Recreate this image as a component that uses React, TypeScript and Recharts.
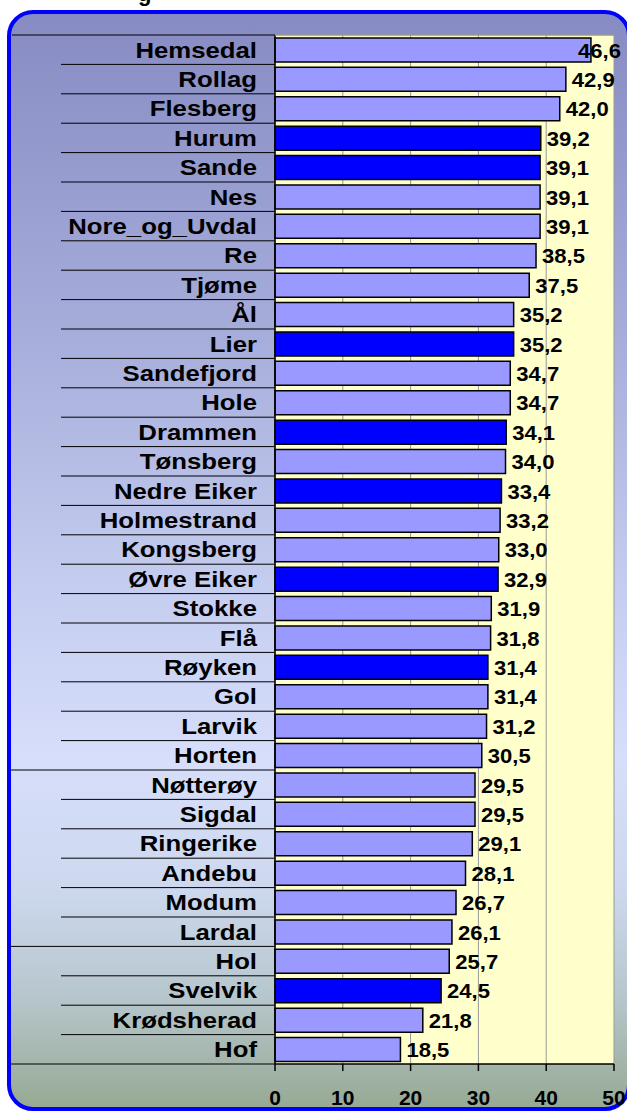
import { Bar, BarChart, CartesianGrid, Cell, LabelList, XAxis, YAxis } from "recharts";

const kommuner = [
  "Hemsedal", "Rollag", "Flesberg", "Hurum", "Sande", "Nes", "Nore_og_Uvdal", "Re", "Tjøme", "Ål",
  "Lier", "Sandefjord", "Hole", "Drammen", "Tønsberg", "Nedre Eiker", "Holmestrand", "Kongsberg",
  "Øvre Eiker", "Stokke", "Flå", "Røyken", "Gol", "Larvik", "Horten", "Nøtterøy", "Sigdal",
  "Ringerike", "Andebu", "Modum", "Lardal", "Hol", "Svelvik", "Krødsherad", "Hof",
];

const verdier = [
  46.6, 42.9, 42.0, 39.2, 39.1, 39.1, 39.1, 38.5, 37.5, 35.2,
  35.2, 34.7, 34.7, 34.1, 34.0, 33.4, 33.2, 33.0,
  32.9, 31.9, 31.8, 31.4, 31.4, 31.2, 30.5, 29.5, 29.5,
  29.1, 28.1, 26.7, 26.1, 25.7, 24.5, 21.8, 18.5,
];

const uthevet = ["Hurum", "Sande", "Lier", "Drammen", "Nedre Eiker", "Øvre Eiker", "Røyken", "Svelvik"];

// last category in each group (a full-width line is drawn below these)
const gruppeSlutt = ["Horten", "Lardal"];

const xTicks = [0, 10, 20, 30, 40, 50];

const W = 627;
const H = 1113;
const MARGIN = { top: 35, right: 13, bottom: 0, left: 0 };
const Y_AXIS_W = 275;
const X_AXIS_H = 49;
const PLOT_H = H - MARGIN.top - MARGIN.bottom - X_AXIS_H;
const ROW = PLOT_H / kommuner.length;
const FONT = "'Liberation Sans', Arial, Helvetica, sans-serif";

const data = kommuner.map((name, i) => ({ name, value: verdier[i] }));

function CategoryTick(props: any) {
  const { y, payload, index } = props;
  const name = payload.value as string;
  const bottom = y + ROW / 2;
  const lineStart = gruppeSlutt.includes(name) || index === kommuner.length - 1 ? 10 : 61;
  return (
    <g>
      {index === 0 && (
        <>
          <line x1={12} x2={Y_AXIS_W} y1={y - ROW / 2} y2={y - ROW / 2} stroke="#000" strokeWidth={1} />
          <line x1={Y_AXIS_W} x2={W - MARGIN.right} y1={y - ROW / 2} y2={y - ROW / 2} stroke="#999" strokeWidth={1.5} />
        </>
      )}
      <line x1={lineStart} x2={Y_AXIS_W} y1={bottom} y2={bottom} stroke="#000" strokeWidth={1} />
      <text
        transform={`translate(257, ${y}) scale(1.17, 1)`}
        textAnchor="end"
        dy="0.36em"
        fontFamily={FONT}
        fontWeight="bold"
        fontSize={22}
        fill="#000"
      >
        {name}
      </text>
    </g>
  );
}

function ValueLabel(props: any) {
  const { x, y, width, height, value } = props;
  const end = x + width;
  const txt = Number(value).toFixed(1).replace(".", ",");
  const labelW = 43;
  let left = end + 6;
  if (left + labelW > 621) left = 621 - labelW;
  return (
    <text
      transform={`translate(${left}, ${y + height / 2}) scale(1.05, 1)`}
      textAnchor="start"
      dy="0.36em"
      fontFamily={FONT}
      fontWeight="bold"
      fontSize={21}
      fill="#000"
    >
      {txt}
    </text>
  );
}

export default function App() {
  return (
    <div style={{ position: "absolute", left: 0, top: 0, width: W, height: H, overflow: "hidden" }}>
      <div
        style={{
          position: "absolute",
          left: 7,
          top: 10,
          width: 624,
          height: 1101,
          boxSizing: "border-box",
          border: "4px solid #0000ff",
          borderRadius: 26,
          background:
            "linear-gradient(to bottom, #878bc3 0%, #a7aedb 30%, #c8d0f2 55%, #d7defb 68%, #cdd8ee 80%, #b6c6cc 90%, #97aa94 100%)",
        }}
      />
      <div
        style={{
          position: "absolute",
          left: 138,
          top: -19,
          fontFamily: FONT,
          fontWeight: "bold",
          fontSize: 22,
          color: "#000",
        }}
      >
        g
      </div>
      <div style={{ position: "absolute", left: 0, top: 0 }}>
        <BarChart
          width={W}
          height={H}
          data={data}
          layout="vertical"
          margin={MARGIN}
          barCategoryGap="10%"
        >
          <CartesianGrid horizontal={false} vertical={true} stroke="#999" strokeWidth={1} fill="#ffffcc" />
          <XAxis
            type="number"
            domain={[0, 50]}
            ticks={xTicks}
            height={X_AXIS_H}
            axisLine={{ stroke: "#000", strokeWidth: 1.5 }}
            tickLine={{ stroke: "#000", strokeWidth: 1.5 }}
            tickSize={7}
            tickMargin={19}
            tick={{ fill: "#000", fontSize: 21, fontWeight: "bold", fontFamily: FONT }}
            interval={0}
          />
          <YAxis
            type="category"
            dataKey="name"
            width={Y_AXIS_W}
            axisLine={{ stroke: "#000", strokeWidth: 1.5 }}
            tickLine={false}
            tick={<CategoryTick />}
            interval={0}
          />
          <Bar dataKey="value" stroke="#000" strokeWidth={1.5} isAnimationActive={false}>
            {data.map((d) => (
              <Cell key={d.name} fill={uthevet.includes(d.name) ? "#0000ff" : "#9999ff"} />
            ))}
            <LabelList dataKey="value" content={<ValueLabel />} />
          </Bar>
        </BarChart>
      </div>
    </div>
  );
}
